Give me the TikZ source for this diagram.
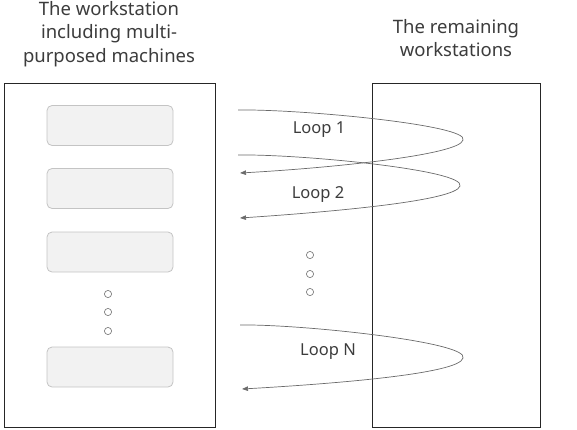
\documentclass[tikz,border=0pt]{standalone}
\usepackage{fontspec}
\setmainfont{Noto Sans}
\usepackage{tikz}
\usetikzlibrary{arrows.meta}
\usepackage{xcolor}
\definecolor{machfill}{HTML}{F2F2F2}
\definecolor{machline}{HTML}{C4C4C4}
\definecolor{loopline}{HTML}{6A6A6A}
\definecolor{txtgray}{HTML}{3C3C3C}

\begin{document}
\begin{tikzpicture}[x=1pt, y=-1pt,
    machine/.style={draw=machline, fill=machfill, rounded corners=5pt, line width=0.8pt},
    dot/.style={draw=gray, line width=0.7pt},
    loopline/.style={draw=loopline, line width=0.7pt, -{Triangle[length=6pt,width=4.5pt]}},
    title/.style={text=txtgray, font=\fontsize{18.5}{23.5}\selectfont, align=center},
    looplabel/.style={text=txtgray, font=\fontsize{16.5}{18}\selectfont}]
    \useasboundingbox (0,0) rectangle (577,429);
    \draw[line width=0.9pt, black!85] (4,83) rectangle (215,427);
    \draw[line width=0.9pt, black!85] (372,83) rectangle (540,427);
    \node[title] (wstitle) at (109,34) {The workstation\\including multi-\\purposed machines};
    \node[title] (resttitle) at (456,38) {The remaining\\workstations};
    \foreach \i/\y in {1/125.5, 2/188.5, 3/252, 4/367}
        \draw[machine] (47,\y-20) rectangle (173,\y+20);
    \foreach \y in {294, 312, 331}
        \draw[dot] (108,\y) circle (3.6);
    \foreach \y in {255, 274, 292}
        \draw[dot] (310,\y) circle (3.6);
    \draw[loopline] (238,110) .. controls (300,109) and (470,125) .. (463,140)
        .. controls (460,155) and (330,168) .. (240,173);
    \draw[loopline] (238,155) .. controls (300,154) and (466,170) .. (460,186)
        .. controls (456,201) and (330,212) .. (240,218);
    \draw[loopline] (240,325) .. controls (300,324) and (470,342) .. (463,358)
        .. controls (460,374) and (330,384) .. (242,389);
    \node[looplabel] (l1) at (319,130) {Loop 1};
    \node[looplabel] (l2) at (318,194) {Loop 2};
    \node[looplabel] (ln) at (328,352) {Loop N};
\end{tikzpicture}
\end{document}
